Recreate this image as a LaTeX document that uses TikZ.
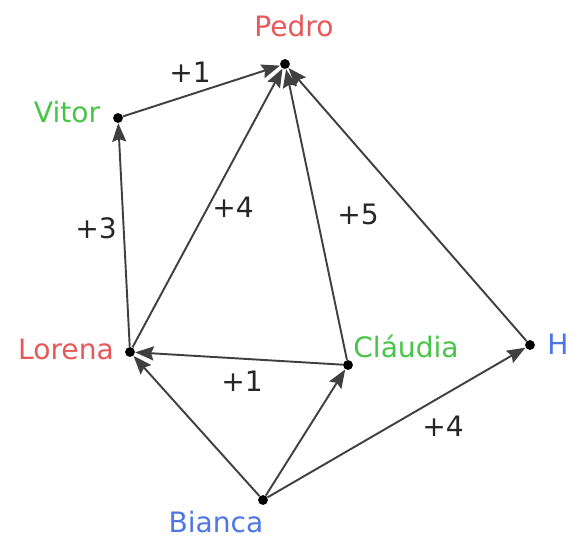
\documentclass[tikz,border=0pt]{standalone}
\usepackage{fontspec}
\setmainfont{DejaVu Sans}
\usetikzlibrary{arrows.meta}
\definecolor{nameRed}{RGB}{232, 88, 88}
\definecolor{nameGreen}{RGB}{72, 196, 72}
\definecolor{nameBlue}{RGB}{78, 118, 228}
\tikzset{
  dot/.style={circle, fill=black, inner sep=0pt, minimum size=5.6pt},
  vote/.style={draw=black!75, line width=1.1pt, -{Stealth[length=10.5pt, width=8pt, inset=1.5pt]}},
  who/.style={font=\fontsize{16}{19}\selectfont, inner sep=0pt},
  weight/.style={font=\fontsize{16}{19}\selectfont, text=black!85, inner sep=0pt}
}
\begin{document}
\begin{tikzpicture}[x=0.02cm, y=-0.02cm]
    \useasboundingbox (0,0) rectangle (579,538);
    % people
    \node[dot] (pedro) at (285,64) {};
    \node[dot] (vitor) at (118,118) {};
    \node[dot] (lorena) at (130,352) {};
    \node[dot] (claudia) at (348,365) {};
    \node[dot] (h) at (530,345) {};
    \node[dot] (bianca) at (263,500) {};
    \node[who, text=nameRed] (pedroName) at (294,26) {Pedro};
    \node[who, text=nameGreen] (vitorName) at (67,112) {Vitor};
    \node[who, text=nameRed] (lorenaName) at (66,349) {Lorena};
    \node[who, text=nameGreen] (claudiaName) at (406,346) {Cláudia};
    \node[who, text=nameBlue] (hName) at (558,344) {H};
    \node[who, text=nameBlue] (biancaName) at (216,522) {Bianca};
    % votes
    \draw[vote] (vitor) -- (pedro);
    \draw[vote] (lorena) -- (vitor);
    \draw[vote] (lorena) -- (pedro);
    \draw[vote] (claudia) -- (pedro);
    \draw[vote] (h) -- (pedro);
    \draw[vote] (claudia) -- (lorena);
    \draw[vote] (bianca) -- (lorena);
    \draw[vote] (bianca) -- (claudia);
    \draw[vote] (bianca) -- (h);
    \node[weight] (w1) at (190,72) {+1};
    \node[weight] (w2) at (96,228) {+3};
    \node[weight] (w3) at (233,207) {+4};
    \node[weight] (w4) at (358,214) {+5};
    \node[weight] (w5) at (242,381) {+1};
    \node[weight] (w6) at (443,426) {+4};
\end{tikzpicture}
\end{document}
